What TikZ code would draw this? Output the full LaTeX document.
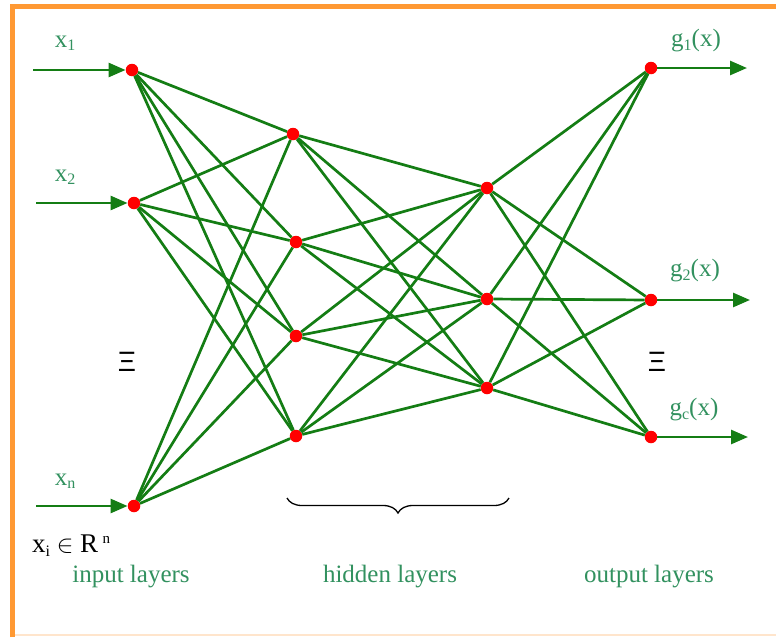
\documentclass[tikz,border=0pt]{standalone}
\usepackage{fontspec}
\setmainfont{Liberation Serif}
\newfontfamily\symfont{Liberation Sans}
\usetikzlibrary{arrows.meta,decorations.pathreplacing}
\definecolor{netgreen}{RGB}{20,125,20}
\definecolor{labgreen}{RGB}{50,145,95}
\definecolor{frameorange}{RGB}{255,153,51}
\newcommand{\lsub}[1]{\raisebox{-0.28ex}{\fontsize{16}{16}\selectfont #1}}

\begin{document}
\begin{tikzpicture}[x=1pt,y=-1pt,
  neuron/.style={circle,fill=red,inner sep=0pt,minimum size=12.5pt},
  link/.style={netgreen,line width=2.7pt},
  flow/.style={link,-{Triangle[length=17pt,width=14pt]}},
  lab/.style={text=labgreen,inner sep=0pt,font=\fontsize{25}{28}\selectfont},
  blk/.style={text=black,inner sep=0pt,font=\fontsize{27}{30}\selectfont},
  dots/.style={text=black,inner sep=0pt,font=\symfont\fontsize{28}{30}\selectfont},
]
\useasboundingbox (0,0) rectangle (776,637);

% frame
\draw[frameorange!25,line width=2pt] (13,635) -- (776,635);
\draw[frameorange,line width=5pt] (12.5,637) -- (12.5,6.5) -- (776,6.5);

% neurons
\node[neuron] (i1) at (132,70) {};
\node[neuron] (i2) at (134,203) {};
\node[neuron] (i3) at (134,506) {};
\node[neuron] (h1) at (293,134) {};
\node[neuron] (h2) at (296,242) {};
\node[neuron] (h3) at (296,336) {};
\node[neuron] (h4) at (296,436) {};
\node[neuron] (k1) at (487,188) {};
\node[neuron] (k2) at (487,299) {};
\node[neuron] (k3) at (487,388) {};
\node[neuron] (o1) at (651,68) {};
\node[neuron] (o2) at (651,300) {};
\node[neuron] (o3) at (651,437) {};

% full connections between layers
\foreach \a in {i1,i2,i3}
  \foreach \b in {h1,h2,h3,h4}
    \draw[link] (\a) -- (\b);
\foreach \a in {h1,h2,h3,h4}
  \foreach \b in {k1,k2,k3}
    \draw[link] (\a) -- (\b);
\foreach \a in {k1,k2,k3}
  \foreach \b in {o1,o2,o3}
    \draw[link] (\a) -- (\b);

% inputs and outputs
\coordinate (s1) at (33,70);
\coordinate (s2) at (36,203);
\coordinate (s3) at (36,506);
\coordinate (e1) at (747,68);
\coordinate (e2) at (750,300);
\coordinate (e3) at (748,437);
\draw[flow] (s1) -- (i1);
\draw[flow] (s2) -- (i2);
\draw[flow] (s3) -- (i3);
\draw[flow] (o1) -- (e1);
\draw[flow] (o2) -- (e2);
\draw[flow] (o3) -- (e3);

% labels
\node[lab] (lx1) at (65,43) {x\lsub{1}};
\node[lab] (lx2) at (65,177) {x\lsub{2}};
\node[lab] (lxn) at (65,481) {x\lsub{n}};
\node[lab] (lg1) at (696,41) {g\lsub{1}(x)};
\node[lab] (lg2) at (695,271) {g\lsub{2}(x)};
\node[lab] (lgc) at (694,410) {g\lsub{c}(x)};
\node[dots] (din) at (127,362) {Ξ};
\node[dots] (dout) at (657,362) {Ξ};
\node[blk,anchor=west] (dom) at (32,546) {x\raisebox{-0.3ex}{\fontsize{16}{16}\selectfont i} $\in$ R\,\raisebox{0.75ex}{\fontsize{15}{15}\selectfont n}};
\node[lab] (tin) at (131,577) {input layers};
\node[lab] (thid) at (390,577) {hidden layers};
\node[lab] (tout) at (649,577) {output layers};

% brace under the hidden layers
\coordinate (b1) at (287,498);
\coordinate (b2) at (509,498);
\draw[black,line width=1.3pt,decorate,decoration={brace,mirror,amplitude=15pt}] (b1) -- (b2);
\end{tikzpicture}
\end{document}
